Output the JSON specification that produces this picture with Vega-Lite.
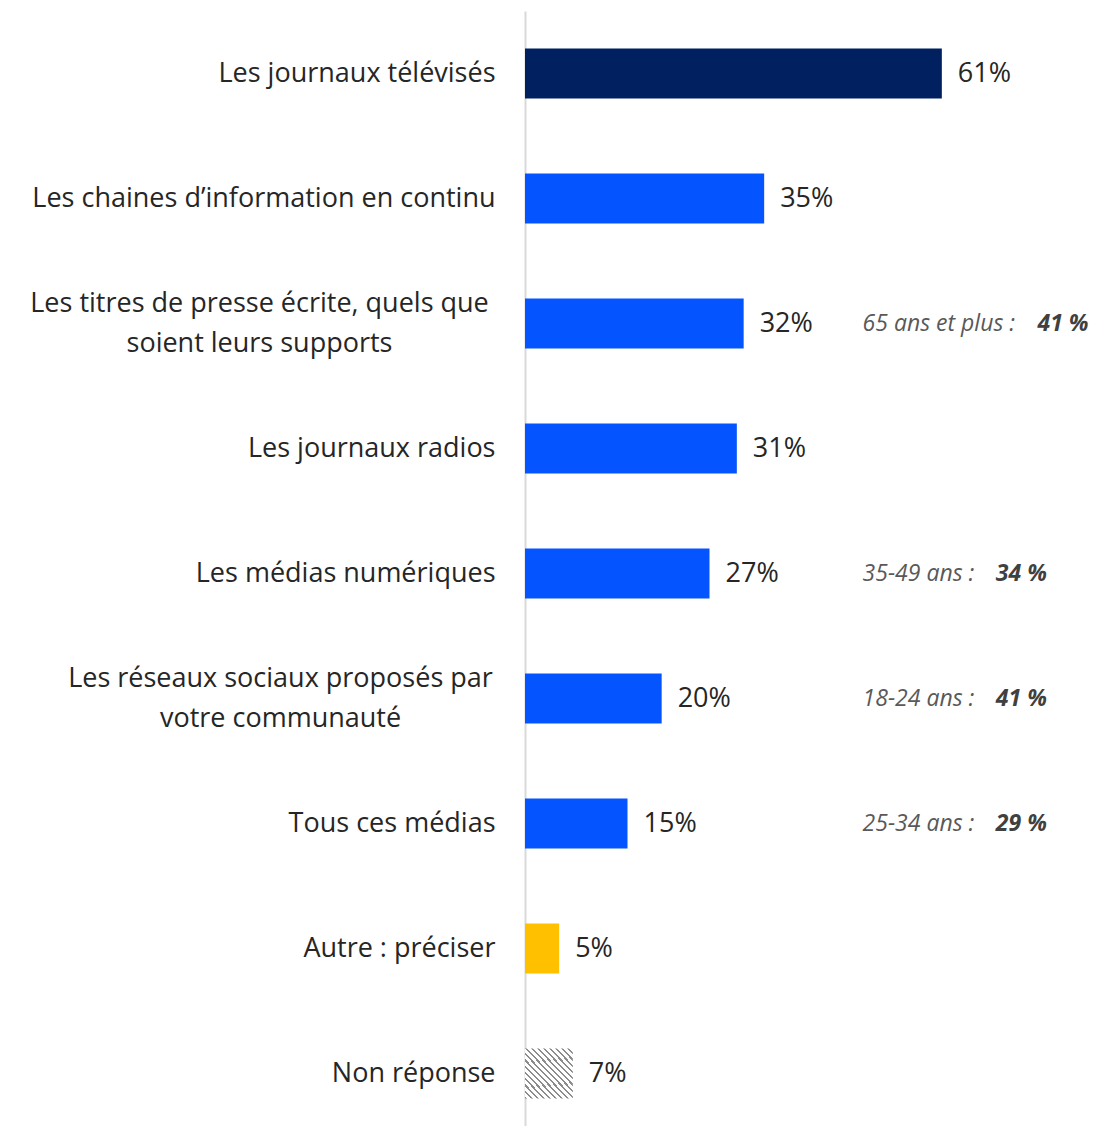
{
  "$schema": "https://vega.github.io/schema/vega-lite/v6.json",
  "width": 574,
  "height": 1125,
  "autosize": {"type": "none"},
  "padding": {"left": 525, "top": 11, "right": 0, "bottom": 0},
  "background": "white",
  "config": {"view": {"stroke": null}, "font": "Open Sans"},
  "data": {
    "values": [
      {"label": "Les journaux télévisés", "value": 61, "type": "top", "note": null, "bold": null},
      {"label": "Les chaines d’information en continu ", "value": 35, "type": "main", "note": null, "bold": null},
      {"label": "Les titres de presse écrite, quels que|soient leurs supports", "value": 32, "type": "main", "note": "65 ans et plus : ", "bold": "41 %", "grp": "long"},
      {"label": "Les journaux radios", "value": 31, "type": "main", "note": null, "bold": null},
      {"label": "Les médias numériques", "value": 27, "type": "main", "note": "35-49 ans : ", "bold": "34 %", "grp": "short"},
      {"label": "Les réseaux sociaux proposés par|votre communauté", "value": 20, "type": "main", "note": "18-24 ans : ", "bold": "41 %", "grp": "short"},
      {"label": "Tous ces médias", "value": 15, "type": "main", "note": "25-34 ans : ", "bold": "29 %", "grp": "short"},
      {"label": "Autre : préciser", "value": 5, "type": "other", "note": null, "bold": null},
      {"label": "Non réponse ", "value": 7, "type": "nr", "note": null, "bold": null}
    ]
  },
  "encoding": {
    "y": {
      "field": "label",
      "type": "nominal",
      "sort": [
        "Les journaux télévisés",
        "Les chaines d’information en continu ",
        "Les titres de presse écrite, quels que|soient leurs supports",
        "Les journaux radios",
        "Les médias numériques",
        "Les réseaux sociaux proposés par|votre communauté",
        "Tous ces médias",
        "Autre : préciser",
        "Non réponse "
      ],
      "scale": {"paddingInner": 0.6, "paddingOuter": 0.3},
      "axis": {
        "title": null,
        "ticks": false,
        "domain": true,
        "domainColor": "#d9d9d9",
        "domainWidth": 2,
        "labelPadding": {
          "condition": [
            {"test": "indexof(datum.value, 'titres') >= 0", "value": 266},
            {"test": "indexof(datum.value, 'réseaux') >= 0", "value": 245}
          ],
          "value": 30
        },
        "labelAlign": {
          "condition": {"test": "indexof(datum.value, '|') >= 0", "value": "center"},
          "value": "right"
        },
        "labelOffset": {
          "condition": {"test": "indexof(datum.value, '|') >= 0", "value": -20},
          "value": 0
        },
        "labelFont": "Open Sans",
        "labelFontSize": 27,
        "labelColor": "#262626",
        "labelLimit": 600,
        "labelLineHeight": 40,
        "labelExpr": "split(datum.label, '|')"
      }
    }
  },
  "layer": [
    {
      "transform": [{"filter": "datum.type != 'nr'"}],
      "mark": {"type": "bar"},
      "encoding": {
        "x": {"field": "value", "type": "quantitative", "scale": {"domain": [0, 84], "nice": false}, "axis": null},
        "color": {
          "field": "type",
          "type": "nominal",
          "scale": {"domain": ["top", "main", "other"], "range": ["#002060", "#0455FF", "#FFC000"]},
          "legend": null
        }
      }
    },
    {
      "transform": [{"filter": "datum.type == 'nr'"}],
      "mark": {
        "type": "bar",
        "color": {
          "gradient": "linear",
          "x1": 0, "y1": 1, "x2": 1, "y2": 0,
          "stops": [
            {"offset": 0, "color": "#8c8c8c"}, {"offset": 0.022, "color": "#8c8c8c"}, {"offset": 0.022, "color": "#ffffff"}, {"offset": 0.0625, "color": "#ffffff"},
            {"offset": 0.0625, "color": "#8c8c8c"}, {"offset": 0.0845, "color": "#8c8c8c"}, {"offset": 0.0845, "color": "#ffffff"}, {"offset": 0.125, "color": "#ffffff"},
            {"offset": 0.125, "color": "#8c8c8c"}, {"offset": 0.147, "color": "#8c8c8c"}, {"offset": 0.147, "color": "#ffffff"}, {"offset": 0.1875, "color": "#ffffff"},
            {"offset": 0.1875, "color": "#8c8c8c"}, {"offset": 0.2095, "color": "#8c8c8c"}, {"offset": 0.2095, "color": "#ffffff"}, {"offset": 0.25, "color": "#ffffff"},
            {"offset": 0.25, "color": "#8c8c8c"}, {"offset": 0.272, "color": "#8c8c8c"}, {"offset": 0.272, "color": "#ffffff"}, {"offset": 0.3125, "color": "#ffffff"},
            {"offset": 0.3125, "color": "#8c8c8c"}, {"offset": 0.3345, "color": "#8c8c8c"}, {"offset": 0.3345, "color": "#ffffff"}, {"offset": 0.375, "color": "#ffffff"},
            {"offset": 0.375, "color": "#8c8c8c"}, {"offset": 0.397, "color": "#8c8c8c"}, {"offset": 0.397, "color": "#ffffff"}, {"offset": 0.4375, "color": "#ffffff"},
            {"offset": 0.4375, "color": "#8c8c8c"}, {"offset": 0.4595, "color": "#8c8c8c"}, {"offset": 0.4595, "color": "#ffffff"}, {"offset": 0.5, "color": "#ffffff"},
            {"offset": 0.5, "color": "#8c8c8c"}, {"offset": 0.522, "color": "#8c8c8c"}, {"offset": 0.522, "color": "#ffffff"}, {"offset": 0.5625, "color": "#ffffff"},
            {"offset": 0.5625, "color": "#8c8c8c"}, {"offset": 0.5845, "color": "#8c8c8c"}, {"offset": 0.5845, "color": "#ffffff"}, {"offset": 0.625, "color": "#ffffff"},
            {"offset": 0.625, "color": "#8c8c8c"}, {"offset": 0.647, "color": "#8c8c8c"}, {"offset": 0.647, "color": "#ffffff"}, {"offset": 0.6875, "color": "#ffffff"},
            {"offset": 0.6875, "color": "#8c8c8c"}, {"offset": 0.7095, "color": "#8c8c8c"}, {"offset": 0.7095, "color": "#ffffff"}, {"offset": 0.75, "color": "#ffffff"},
            {"offset": 0.75, "color": "#8c8c8c"}, {"offset": 0.772, "color": "#8c8c8c"}, {"offset": 0.772, "color": "#ffffff"}, {"offset": 0.8125, "color": "#ffffff"},
            {"offset": 0.8125, "color": "#8c8c8c"}, {"offset": 0.8345, "color": "#8c8c8c"}, {"offset": 0.8345, "color": "#ffffff"}, {"offset": 0.875, "color": "#ffffff"},
            {"offset": 0.875, "color": "#8c8c8c"}, {"offset": 0.897, "color": "#8c8c8c"}, {"offset": 0.897, "color": "#ffffff"}, {"offset": 0.9375, "color": "#ffffff"},
            {"offset": 0.9375, "color": "#8c8c8c"}, {"offset": 0.9595, "color": "#8c8c8c"}, {"offset": 0.9595, "color": "#ffffff"}, {"offset": 1, "color": "#ffffff"}
          ]
        }
      },
      "encoding": {
        "x": {"field": "value", "type": "quantitative"}
      }
    },
    {
      "mark": {"type": "text", "align": "left", "baseline": "middle", "dx": 16, "fontSize": 27, "font": "Open Sans", "color": "#262626", "text": {"expr": "datum.value + '%'"}},
      "encoding": {
        "x": {"field": "value", "type": "quantitative"}
      }
    },
    {
      "transform": [{"filter": "datum.note != null"}],
      "mark": {"type": "text", "align": "left", "baseline": "middle", "fontSize": 23, "font": "Open Sans", "fontStyle": "italic", "color": "#595959"},
      "encoding": {
        "x": {"datum": 49.4, "type": "quantitative"},
        "text": {"field": "note"}
      }
    },
    {
      "transform": [{"filter": "datum.grp == 'short'"}],
      "mark": {"type": "text", "align": "left", "baseline": "middle", "fontSize": 23, "font": "Open Sans", "fontStyle": "italic", "fontWeight": "bold", "color": "#404040"},
      "encoding": {
        "x": {"datum": 68.9, "type": "quantitative"},
        "text": {"field": "bold"}
      }
    },
    {
      "transform": [{"filter": "datum.grp == 'long'"}],
      "mark": {"type": "text", "align": "left", "baseline": "middle", "fontSize": 23, "font": "Open Sans", "fontStyle": "italic", "fontWeight": "bold", "color": "#404040"},
      "encoding": {
        "x": {"datum": 75.0, "type": "quantitative"},
        "text": {"field": "bold"}
      }
    }
  ]
}
